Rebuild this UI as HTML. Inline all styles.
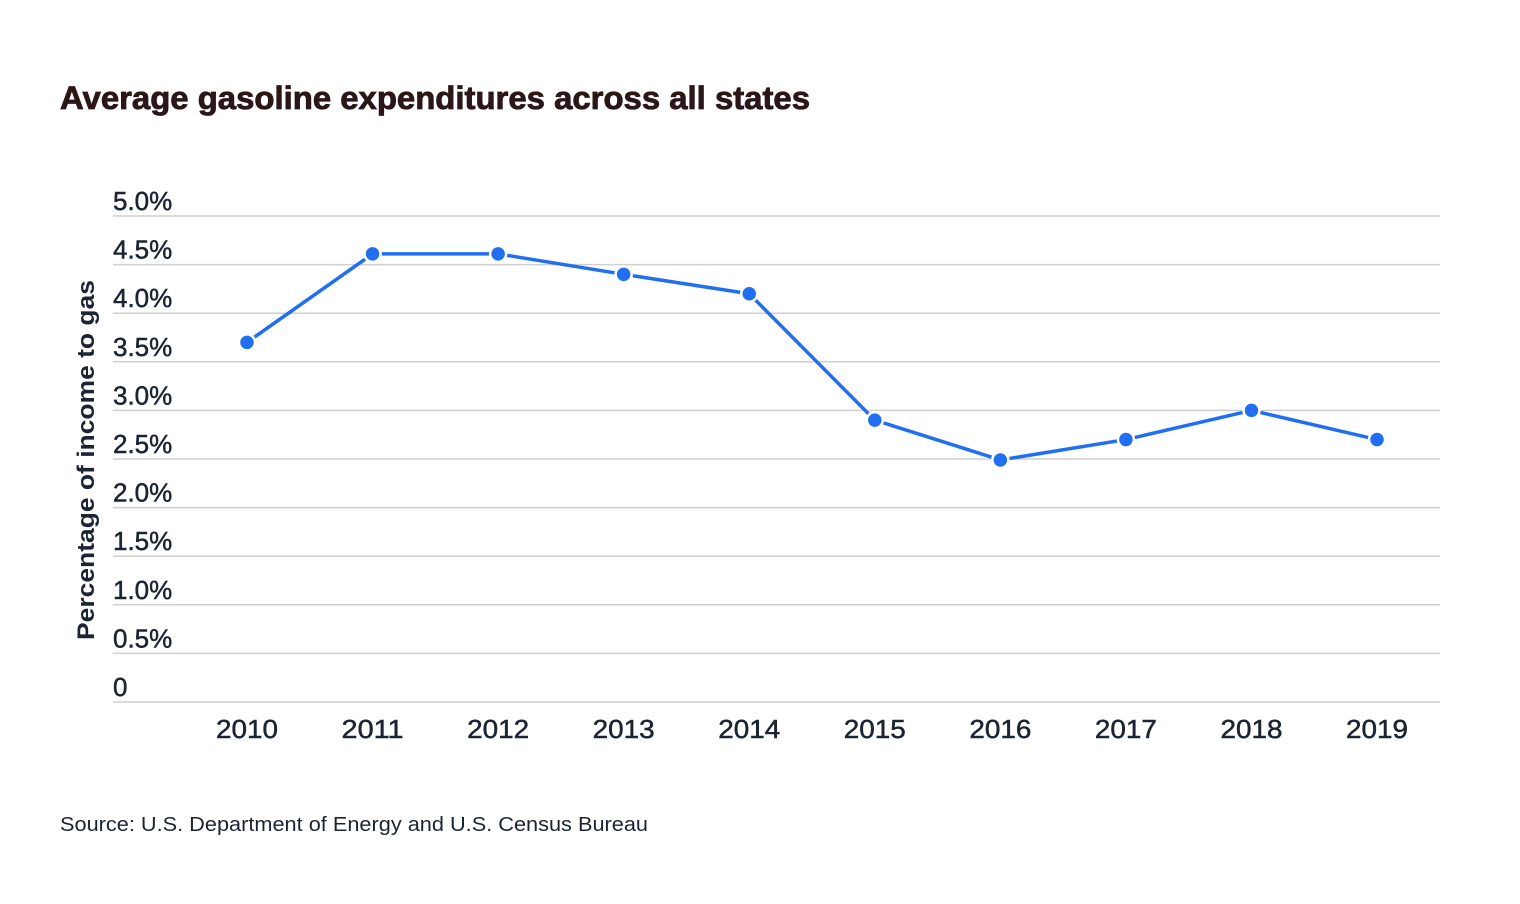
<!DOCTYPE html>
<html><head><meta charset="utf-8"><style>
html,body{margin:0;padding:0;background:#fff;}
svg{display:block;font-family:"Liberation Sans",sans-serif;}
</style></head><body>
<svg id="chart" width="1520" height="904" viewBox="0 0 1520 904">
<text x="60" y="109" font-size="32" font-weight="bold" fill="#2b1718" stroke="#2b1718" stroke-width="0.8" textLength="750" lengthAdjust="spacingAndGlyphs">Average gasoline expenditures across all states</text>
<g id="grid"></g>
<g id="xlabels"></g>
<text transform="translate(94,460) rotate(-90)" text-anchor="middle" font-size="24" font-weight="bold" fill="#1c2433" textLength="360" lengthAdjust="spacingAndGlyphs">Percentage of income to gas</text>
<g id="series"></g>
<text x="60" y="831" font-size="20" fill="#1c2433" textLength="588" lengthAdjust="spacingAndGlyphs">Source: U.S. Department of Energy and U.S. Census Bureau</text>
</svg>
<script>
const years = ["2010","2011","2012","2013","2014","2015","2016","2017","2018","2019"];
const values = [3.7,4.61,4.61,4.4,4.2,2.9,2.49,2.7,3.0,2.7];
const yTicks = [0,0.5,1.0,1.5,2.0,2.5,3.0,3.5,4.0,4.5,5.0];
const yTickLabels = ["0","0.5%","1.0%","1.5%","2.0%","2.5%","3.0%","3.5%","4.0%","4.5%","5.0%"];
const NS="http://www.w3.org/2000/svg";
const y = v => 702 - v*97.2;
const x = i => 247 + i*125.56;
function mk(tag, attrs, parent){const e=document.createElementNS(NS,tag);for(const k in attrs)e.setAttribute(k,attrs[k]);parent.appendChild(e);return e;}
const grid=document.getElementById('grid');
yTicks.forEach((t,i)=>{
  const l=mk('line',{x1:113,x2:1440,y1:y(t),y2:y(t),stroke:'#cfcfcf','stroke-width':1.5},grid);
  
  
  const tx=mk('text',{x:113,y:y(t)-6,'font-size':26,fill:'#1c2433',stroke:'#1c2433','stroke-width':0.5},grid);
  
  
  tx.textContent=yTickLabels[i];
});
const xl=document.getElementById('xlabels');
years.forEach((yr,i)=>{
  const tx=mk('text',{x:x(i),y:738,'font-size':26,fill:'#1c2433',stroke:'#1c2433','stroke-width':0.5,'text-anchor':'middle',textLength:62,lengthAdjust:'spacingAndGlyphs'},xl);
  
  
  tx.textContent=yr;
});
const s=document.getElementById('series');
const pl=mk('polyline',{points:values.map((v,i)=>x(i)+','+y(v)).join(' '),fill:'none',stroke:'#1f6ff0','stroke-width':3.5,'stroke-linejoin':'round'},s);


values.forEach((v,i)=>{
  const c=mk('circle',{cx:x(i),cy:y(v),r:8,fill:'#1f6ff0',stroke:'#fff','stroke-width':2.5},s);
  
  
});
</script>
</body></html>
